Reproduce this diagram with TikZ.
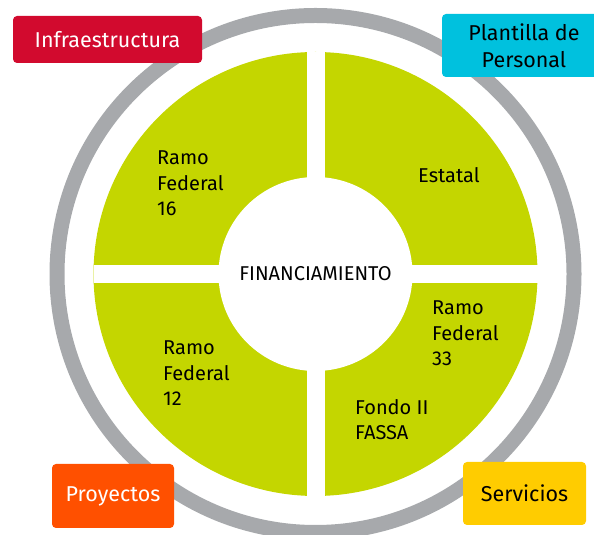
\documentclass[tikz,border=0pt]{standalone}
\usepackage{fontspec}
\setmainfont{Fira Sans}
\usepackage{tikz}
\usetikzlibrary{positioning}

\definecolor{ringgray}{HTML}{A7A9AC}
\definecolor{segreen}{HTML}{C4D600}
\definecolor{boxred}{HTML}{D20A2E}
\definecolor{boxcyan}{HTML}{00C1DE}
\definecolor{boxorange}{HTML}{FF5000}
\definecolor{boxyellow}{HTML}{FFCC00}

\begin{document}
\begin{tikzpicture}[x=1pt, y=1pt,
    segtext/.style={anchor=north west, inner sep=0pt, align=left,
        font=\fontsize{20}{25.5}\selectfont},
    labelbox/.style={rounded corners=4pt, inner sep=0pt, align=center,
        font=\fontsize{21.5}{27}\selectfont}]
        \useasboundingbox (0,0) rectangle (594,535);

        % Ring (gray, outer)
        \draw[ringgray, line width=15pt] (315.5,261) circle (258.5);

        % Disc (green)
        \fill[segreen] (315.5,261) circle (222);

        % White gaps between the four parts
        \fill[white] (306.5,39) rectangle (324.5,483);
        \fill[white] (93.5,252) rectangle (537.5,270);

        % Centre
        \node[circle, fill=white, minimum size=194pt, inner sep=0pt,
            font=\fontsize{20}{24}\selectfont] (fin) at (315.5,261) {FINANCIAMIENTO};

        % Texts in the parts
        \node[segtext] (r16) at (157,384) {Ramo\\Federal\\16};
        \node[segtext] (estatal) at (418,368) {Estatal};
        \node[segtext] (r33) at (432,234) {Ramo\\Federal\\33};
        \node[segtext] (fassa) at (355,136) {Fondo II\\FASSA};
        \node[segtext] (r12) at (163,194) {Ramo\\Federal\\12};

        % Box 1 (top left)
        \node[labelbox, fill=boxred, text=white, minimum width=189pt,
            minimum height=47pt] (infra) at (107.5,495.5) {Infraestructura};

        % Box 2 (top right, cut by the edge)
        \node[labelbox, fill=boxcyan, minimum width=164pt,
            minimum height=63pt] (plantilla) at (524,489.5) {Plantilla de\\Personal};

        % Box 3 (bottom left)
        \node[labelbox, fill=boxorange, text=white, minimum width=122pt,
            minimum height=64pt] (proyectos) at (113,39) {Proyectos};

        % Box 4 (bottom right)
        \node[labelbox, fill=boxyellow, minimum width=123pt,
            minimum height=63pt] (servicios) at (524.5,41.5) {Servicios};
\end{tikzpicture}
\end{document}
